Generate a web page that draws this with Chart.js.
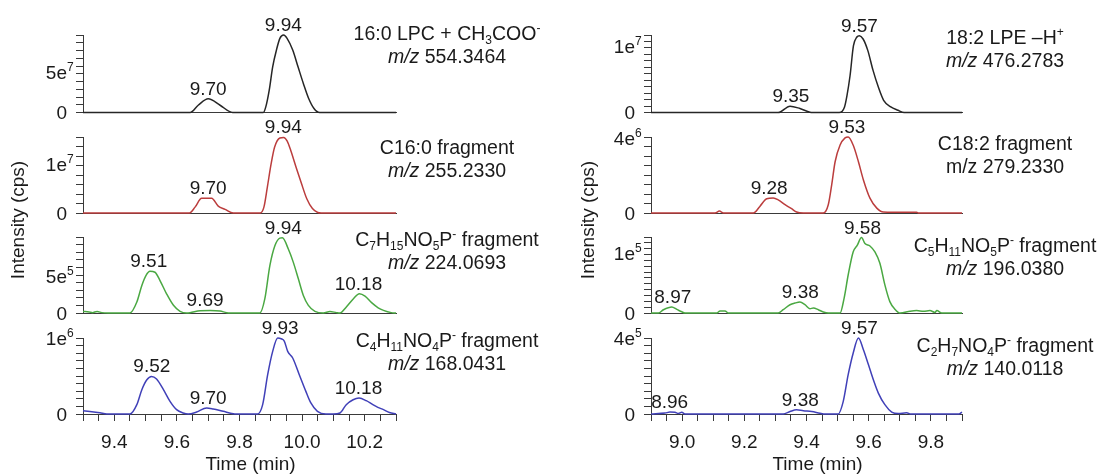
<!DOCTYPE html>
<html>
<head>
<meta charset="utf-8">
<title>Extracted ion chromatograms</title>
<script src="https://cdn.jsdelivr.net/npm/chart.js@4.4.1/dist/chart.umd.min.js"></script>
<style>
  html, body { margin: 0; padding: 0; background: #fff; }
  #wrap { position: relative; width: 1110px; height: 475px; overflow: hidden; }
  #wrap canvas { position: absolute; left: 0; top: 0; }
</style>
</head>
<body>
<div id="wrap">
  <canvas id="p-l1" width="1110" height="475"></canvas>
  <canvas id="p-l2" width="1110" height="475"></canvas>
  <canvas id="p-l3" width="1110" height="475"></canvas>
  <canvas id="p-l4" width="1110" height="475"></canvas>
  <canvas id="p-r1" width="1110" height="475"></canvas>
  <canvas id="p-r2" width="1110" height="475"></canvas>
  <canvas id="p-r3" width="1110" height="475"></canvas>
  <canvas id="p-r4" width="1110" height="475"></canvas>
</div>
<script>
'use strict';

// ---- data (time in min, intensity in cps) ----

// left column: 16:0 LPC
var lpcTime = [9.30, 9.642, 9.668, 9.700, 9.738, 9.778, 9.876, 9.884, 9.895, 9.906, 9.918, 9.929, 9.941, 9.952, 9.970, 9.987, 10.004, 10.021, 10.038, 10.056, 10.30];
var lpcInt = [0, 0, 0.9e7, 1.7e7, 0.9e7, 0, 0, 0.7e7, 2.77e7, 5.66e7, 7.73e7, 9.18e7, 9.59e7, 9.18e7, 7.73e7, 5.66e7, 3.6e7, 1.74e7, 0.5e7, 0, 0];
var lpcPeaks = [[9.70, 1.7e7, '9.70'], [9.94, 9.59e7, '9.94']];

var c16Time = [9.30, 9.640, 9.658, 9.679, 9.711, 9.732, 9.754, 9.780, 9.866, 9.878, 9.889, 9.901, 9.912, 9.929, 9.941, 9.952, 9.964, 9.981, 9.998, 10.015, 10.033, 10.050, 10.061, 10.30];
var c16Int = [0, 0, 1.2e6, 3.0e6, 3.0e6, 1.4e6, 0.75e6, 0, 0, 1.2e6, 5.3e6, 1.0e7, 1.34e7, 1.53e7, 1.54e7, 1.47e7, 1.27e7, 9.3e6, 6.0e6, 2.9e6, 0.9e6, 0.1e6, 0, 0];
var c16Peaks = [[9.70, 3.0e6, '9.70'], [9.94, 1.54e7, '9.94']];

var c7Time = [9.30, 9.32, 9.33, 9.345, 9.36, 9.38, 9.450, 9.472, 9.488, 9.501, 9.514, 9.530, 9.546, 9.567, 9.589, 9.610, 9.631, 9.642, 9.674, 9.706, 9.738, 9.759, 9.770, 9.865, 9.881, 9.897, 9.913, 9.929, 9.937, 9.956, 9.972, 9.988, 10.004, 10.020, 10.041, 10.068, 10.089, 10.110, 10.121, 10.142, 10.164, 10.183, 10.201, 10.222, 10.243, 10.260, 10.285, 10.30];
var c7Int = [0.2e5, 0.15e5, 0.05e5, 0.2e5, 0.05e5, 0, 0, 1.48e5, 3.73e5, 5.07e5, 5.65e5, 5.52e5, 4.4e5, 2.6e5, 1.04e5, 0.23e5, 0, 0.04e5, 0.32e5, 0.35e5, 0.27e5, 0.04e5, 0, 0, 1.94e5, 6.42e5, 9.11e5, 10.15e5, 10.2e5, 8.67e5, 6.86e5, 4.63e5, 2.38e5, 1.04e5, 0.23e5, 0, 0.2e5, 0.05e5, 0, 0.86e5, 1.94e5, 2.61e5, 2.29e5, 1.4e5, 0.71e5, 0.36e5, 0.05e5, 0];
var c7Peaks = [[9.51, 5.65e5, '9.51'], [9.69, 0.35e5, '9.69'], [9.94, 10.2e5, '9.94'], [10.18, 2.61e5, '10.18']];

var c4Time = [9.30, 9.322, 9.354, 9.376, 9.450, 9.472, 9.488, 9.504, 9.519, 9.535, 9.557, 9.578, 9.599, 9.620, 9.636, 9.663, 9.695, 9.716, 9.748, 9.780, 9.790, 9.858, 9.874, 9.890, 9.906, 9.922, 9.933, 9.943, 9.954, 9.970, 9.991, 10.012, 10.028, 10.049, 10.076, 10.100, 10.121, 10.141, 10.163, 10.182, 10.205, 10.226, 10.242, 10.260, 10.279, 10.30];
var c4Int = [0.44e5, 0.33e5, 0.15e5, 0, 0, 1.23e5, 3.2e5, 4.5e5, 4.95e5, 4.6e5, 3.2e5, 1.66e5, 0.57e5, 0.13e5, 0, 0.26e5, 0.79e5, 0.66e5, 0.35e5, 0.04e5, 0, 0, 1.23e5, 5.17e5, 8.24e5, 10.0e5, 9.9e5, 9.6e5, 8.24e5, 7.37e5, 5.17e5, 2.98e5, 1.45e5, 0.35e5, 0, 0, 0.13e5, 1.23e5, 1.88e5, 2.1e5, 1.75e5, 1.23e5, 0.88e5, 0.57e5, 0.2e5, 0];
var c4Peaks = [[9.52, 4.95e5, '9.52'], [9.70, 0.79e5, '9.70'], [9.93, 10.0e5, '9.93'], [10.18, 2.1e5, '10.18']];

// right column: 18:2 LPE
var lpeTime = [8.90, 9.309, 9.347, 9.379, 9.411, 9.420, 9.505, 9.522, 9.530, 9.540, 9.551, 9.562, 9.570, 9.582, 9.597, 9.614, 9.631, 9.648, 9.671, 9.694, 9.714, 9.90];
var lpeInt = [0, 0, 0.95e6, 0.6e6, 0.05e6, 0, 0, 0.8e6, 2.5e6, 5.5e6, 1.0e7, 1.13e7, 1.15e7, 1.1e7, 9.3e6, 6.3e6, 3.8e6, 1.83e6, 0.83e6, 0.34e6, 0, 0];
var lpePeaks = [[9.35, 0.95e6, '9.35'], [9.57, 1.15e7, '9.57']];

var c18Time = [8.90, 9.106, 9.120, 9.133, 9.229, 9.250, 9.272, 9.293, 9.309, 9.331, 9.352, 9.368, 9.390, 9.454, 9.470, 9.481, 9.492, 9.508, 9.524, 9.534, 9.550, 9.567, 9.583, 9.604, 9.626, 9.647, 9.679, 9.754, 9.760, 9.90];
var c18Int = [0, 0, 0.1e6, 0, 0, 0.35e6, 0.76e6, 0.8e6, 0.7e6, 0.44e6, 0.23e6, 0.05e6, 0, 0, 0.44e6, 1.5e6, 2.73e6, 3.62e6, 4.0e6, 4.05e6, 3.62e6, 2.73e6, 1.76e6, 0.79e6, 0.26e6, 0.05e6, 0.04e6, 0.04e6, 0, 0];
var c18Peaks = [[9.28, 0.8e6, '9.28'], [9.53, 4.05e6, '9.53']];

var c5Time = [8.90, 8.924, 8.940, 8.967, 8.983, 8.999, 9.009, 9.111, 9.122, 9.138, 9.149, 9.309, 9.325, 9.347, 9.363, 9.379, 9.395, 9.411, 9.422, 9.438, 9.454, 9.470, 9.508, 9.521, 9.534, 9.550, 9.563, 9.577, 9.588, 9.604, 9.620, 9.636, 9.652, 9.668, 9.685, 9.701, 9.733, 9.754, 9.776, 9.797, 9.813, 9.819, 9.835, 9.90];
var c5Int = [0, 0, 0.55e4, 1.0e4, 0.6e4, 0.2e4, 0, 0, 0.35e4, 0.35e4, 0, 0, 0.55e4, 1.38e4, 1.66e4, 1.82e4, 1.38e4, 0.72e4, 0.83e4, 0.55e4, 0.17e4, 0, 0, 2.5e4, 6.35e4, 10.2e4, 11.3e4, 12.6e4, 11.6e4, 11.2e4, 10.2e4, 8.3e4, 4.7e4, 1.9e4, 0.6e4, 0, 0.3e4, 0.4e4, 0.3e4, 0.4e4, 0.1e4, 0.4e4, 0, 0];
var c5Peaks = [[8.97, 1.0e4, '8.97'], [9.38, 1.82e4, '9.38'], [9.58, 12.6e4, '9.58']];

var c2Time = [8.90, 8.945, 8.961, 8.977, 8.988, 8.999, 9.009, 9.325, 9.347, 9.368, 9.390, 9.417, 9.443, 9.460, 9.502, 9.518, 9.534, 9.550, 9.567, 9.583, 9.599, 9.615, 9.631, 9.652, 9.674, 9.695, 9.722, 9.735, 9.89, 9.90];
var c2Int = [0, 0.05e5, 0.1e5, 0.09e5, 0.03e5, 0.09e5, 0, 0, 0.13e5, 0.22e5, 0.17e5, 0.13e5, 0.04e5, 0, 0, 0.65e5, 2.07e5, 3.2e5, 4.0e5, 3.38e5, 2.6e5, 1.8e5, 1.1e5, 0.49e5, 0.1e5, 0.02e5, 0.07e5, 0, 0, 0.1e5];
var c2Peaks = [[8.96, 0.1e5, '8.96'], [9.38, 0.22e5, '9.38'], [9.57, 4.0e5, '9.57']];

// time axes and intensity axes (max, minor step, labelled values)
var leftTimeRange = [9.3, 10.3];
var rightTimeRange = [8.9, 9.9];
var lpcAxis = [9.6e7, 1e7, [0, 5e7]];
var c16Axis = [1.55e7, 2e6, [0, 1e7]];
var c7Axis = [1.03e6, 1e5, [0, 5e5]];
var c4Axis = [1.0e6, 1e5, [0, 1e6]];
var lpeAxis = [1.16e7, 1e6, [0, 1e7]];
var c18Axis = [4.05e6, 5e5, [0, 4e6]];
var c5Axis = [1.27e5, 1e4, [0, 1e5]];
var c2Axis = [4.0e5, 4e4, [0, 4e5]];

// ---- layout / style ----
var FONT = "'Liberation Sans', Arial, Helvetica, sans-serif";
var FS = 19;
var TEXT = '#1a1a1a';
var AXIS = '#3a3a3a';
var Y_W = 60;
var TICK = 7;
var rows = [
    { top: 35, zero: 112.5 },
    { top: 137, zero: 213 },
    { top: 237, zero: 313 },
    { top: 338, zero: 414 }
];
var cols = [
    { left: 83, right: 396, range: leftTimeRange, titleX: 447, yTitleX: 19 },
    { left: 651, right: 962, range: rightTimeRange, titleX: 1005, yTitleX: 589 }
];

Chart.defaults.font.family = FONT;
Chart.defaults.font.size = FS;
Chart.defaults.color = TEXT;

// text with sub/superscripts and italics: [[text, kind], ...]
function drawRich(ctx, segs, x, cy, size, align) {
    var fontOf = function(kind) {
        var small = (kind === 'sub' || kind === 'sup');
        return (kind === 'i' ? 'italic ' : '') + (small ? Math.round(size * 0.63) : size) + 'px ' + FONT;
    };
    var total = 0;
    segs.forEach(function(s) {
        ctx.font = fontOf(s[1]);
        total += ctx.measureText(s[0]).width;
    });
    if (align === 'center') x -= total / 2;
    var base = cy + size * 0.36;
    ctx.textAlign = 'left';
    ctx.textBaseline = 'alphabetic';
    segs.forEach(function(s) {
        ctx.font = fontOf(s[1]);
        var dy = s[1] === 'sub' ? size * 0.22 : (s[1] === 'sup' ? -size * 0.42 : 0);
        ctx.fillText(s[0], x, base + dy);
        x += ctx.measureText(s[0]).width;
    });
}

var panelText = {
    id: 'panelText',
    afterDraw: function(chart, args, opts) {
        var ctx = chart.ctx;
        var xs = chart.scales.x, ys = chart.scales.y;
        ctx.save();
        ctx.fillStyle = TEXT;

        // y tick labels: mantissa right aligned, exponent hangs past it
        opts.majors.forEach(function(m) {
            var y = ys.getPixelForValue(m);
            var base = '0', exp = '';
            if (m !== 0) {
                var e = Math.floor(Math.log10(m) + 1e-9);
                base = Math.round(m / Math.pow(10, e)) + 'e';
                exp = String(e);
            }
            ctx.font = FS + 'px ' + FONT;
            ctx.textAlign = 'right';
            ctx.textBaseline = 'alphabetic';
            var xr = ys.right - TICK - 9;
            ctx.fillText(base, xr, y + FS * 0.36);
            if (exp) {
                ctx.font = Math.round(FS * 0.63) + 'px ' + FONT;
                ctx.textAlign = 'left';
                ctx.fillText(exp, xr, y + FS * 0.36 - FS * 0.42);
            }
        });

        // peak apex times
        ctx.font = FS + 'px ' + FONT;
        ctx.textAlign = 'center';
        ctx.textBaseline = 'alphabetic';
        opts.peaks.forEach(function(p) {
            ctx.fillText(p[2], xs.getPixelForValue(p[0]), ys.getPixelForValue(p[1]) - 4);
        });

        // compound / m/z caption
        opts.title.forEach(function(line, i) {
            drawRich(ctx, line, opts.titleX, opts.titleY + i * 23, 19.5, 'center');
        });

        if (opts.xTitle) {
            ctx.font = FS + 'px ' + FONT;
            ctx.textAlign = 'center';
            ctx.textBaseline = 'alphabetic';
            ctx.fillText('Time (min)', (xs.left + xs.right) / 2 + 11, 470);
        }
        if (opts.yTitle) {
            ctx.translate(opts.yTitleX, 220);
            ctx.rotate(-Math.PI / 2);
            ctx.font = FS + 'px ' + FONT;
            ctx.textAlign = 'center';
            ctx.textBaseline = 'middle';
            ctx.fillText('Intensity (cps)', 0, 0);
        }
        ctx.restore();
    }
};

function buildPanel(canvasId, p) {
    var col = cols[p.col], row = rows[p.row], last = p.row === 3;
    var points = p.time.map(function(t, i) { return { x: t, y: p.value[i] }; });

    return new Chart(document.getElementById(canvasId).getContext('2d'), {
        type: 'line',
        data: {
            datasets: [{
                data: points,
                borderColor: p.color,
                borderWidth: 1.5,
                pointRadius: 0,
                cubicInterpolationMode: 'monotone',
                fill: false,
                clip: false
            }]
        },
        options: {
            responsive: false,
            animation: false,
            events: [],
            layout: {
                padding: {
                    left: col.left - Y_W,
                    right: 1110 - col.right,
                    top: row.top,
                    bottom: last ? 0 : 475 - row.zero
                }
            },
            plugins: {
                legend: { display: false },
                tooltip: { enabled: false },
                panelText: {
                    majors: p.axis[2],
                    peaks: p.peaks,
                    title: p.title,
                    titleX: col.titleX,
                    titleY: p.titleY,
                    xTitle: last,
                    yTitle: p.row === 1,
                    yTitleX: col.yTitleX
                }
            },
            scales: {
                x: {
                    type: 'linear',
                    bounds: 'data',
                    min: col.range[0],
                    max: col.range[1],
                    border: { display: true, color: AXIS, width: 1 },
                    grid: { display: last, drawOnChartArea: false, drawTicks: last, tickLength: TICK, color: AXIS },
                    ticks: {
                        display: last,
                        stepSize: 0.05,
                        autoSkip: false,
                        maxRotation: 0,
                        padding: 10,
                        color: TEXT,
                        callback: function(v) {
                            var k = Math.round(v * 100);
                            return k % 20 === 0 ? (k / 100).toFixed(1) : '';
                        }
                    },
                    afterFit: function(s) { s.height = last ? 475 - row.zero : 0; }
                },
                y: {
                    bounds: 'data',
                    min: 0,
                    max: p.axis[0],
                    border: { display: true, color: AXIS, width: 1 },
                    grid: { drawOnChartArea: false, drawTicks: true, tickLength: TICK, color: AXIS },
                    ticks: {
                        stepSize: p.axis[1],
                        autoSkip: false,
                        includeBounds: false,
                        callback: function() { return ''; }
                    },
                    afterFit: function(s) { s.width = Y_W; }
                }
            }
        },
        plugins: [panelText]
    });
}

var SUB = 'sub', SUPK = 'sup', IT = 'i';

var chart_l1 = buildPanel('p-l1', {
    col: 0, row: 0, color: '#262626', time: lpcTime, value: lpcInt, peaks: lpcPeaks, axis: lpcAxis,
    titleY: 33,
    title: [[['16:0 LPC + CH', ''], ['3', SUB], ['COO', ''], ['-', SUPK]], [['m/z', IT], [' 554.3464', '']]]
});
var chart_l2 = buildPanel('p-l2', {
    col: 0, row: 1, color: '#bb3d3d', time: c16Time, value: c16Int, peaks: c16Peaks, axis: c16Axis,
    titleY: 147,
    title: [[['C16:0 fragment', '']], [['m/z', IT], [' 255.2330', '']]]
});
var chart_l3 = buildPanel('p-l3', {
    col: 0, row: 2, color: '#4aa842', time: c7Time, value: c7Int, peaks: c7Peaks, axis: c7Axis,
    titleY: 239,
    title: [[['C', ''], ['7', SUB], ['H', ''], ['15', SUB], ['NO', ''], ['5', SUB], ['P', ''], ['-', SUPK], [' fragment', '']],
            [['m/z', IT], [' 224.0693', '']]]
});
var chart_l4 = buildPanel('p-l4', {
    col: 0, row: 3, color: '#4040b8', time: c4Time, value: c4Int, peaks: c4Peaks, axis: c4Axis,
    titleY: 340,
    title: [[['C', ''], ['4', SUB], ['H', ''], ['11', SUB], ['NO', ''], ['4', SUB], ['P', ''], ['-', SUPK], [' fragment', '']],
            [['m/z', IT], [' 168.0431', '']]]
});
var chart_r1 = buildPanel('p-r1', {
    col: 1, row: 0, color: '#262626', time: lpeTime, value: lpeInt, peaks: lpePeaks, axis: lpeAxis,
    titleY: 37,
    title: [[['18:2 LPE \u2013H', ''], ['+', SUPK]], [['m/z', IT], [' 476.2783', '']]]
});
var chart_r2 = buildPanel('p-r2', {
    col: 1, row: 1, color: '#bb3d3d', time: c18Time, value: c18Int, peaks: c18Peaks, axis: c18Axis,
    titleY: 143,
    title: [[['C18:2 fragment', '']], [['m/z 279.2330', '']]]
});
var chart_r3 = buildPanel('p-r3', {
    col: 1, row: 2, color: '#4aa842', time: c5Time, value: c5Int, peaks: c5Peaks, axis: c5Axis,
    titleY: 245,
    title: [[['C', ''], ['5', SUB], ['H', ''], ['11', SUB], ['NO', ''], ['5', SUB], ['P', ''], ['-', SUPK], [' fragment', '']],
            [['m/z', IT], [' 196.0380', '']]]
});
var chart_r4 = buildPanel('p-r4', {
    col: 1, row: 3, color: '#4040b8', time: c2Time, value: c2Int, peaks: c2Peaks, axis: c2Axis,
    titleY: 345,
    title: [[['C', ''], ['2', SUB], ['H', ''], ['7', SUB], ['NO', ''], ['4', SUB], ['P', ''], ['-', SUPK], [' fragment', '']],
            [['m/z', IT], [' 140.0118', '']]]
});
</script>
</body>
</html>
